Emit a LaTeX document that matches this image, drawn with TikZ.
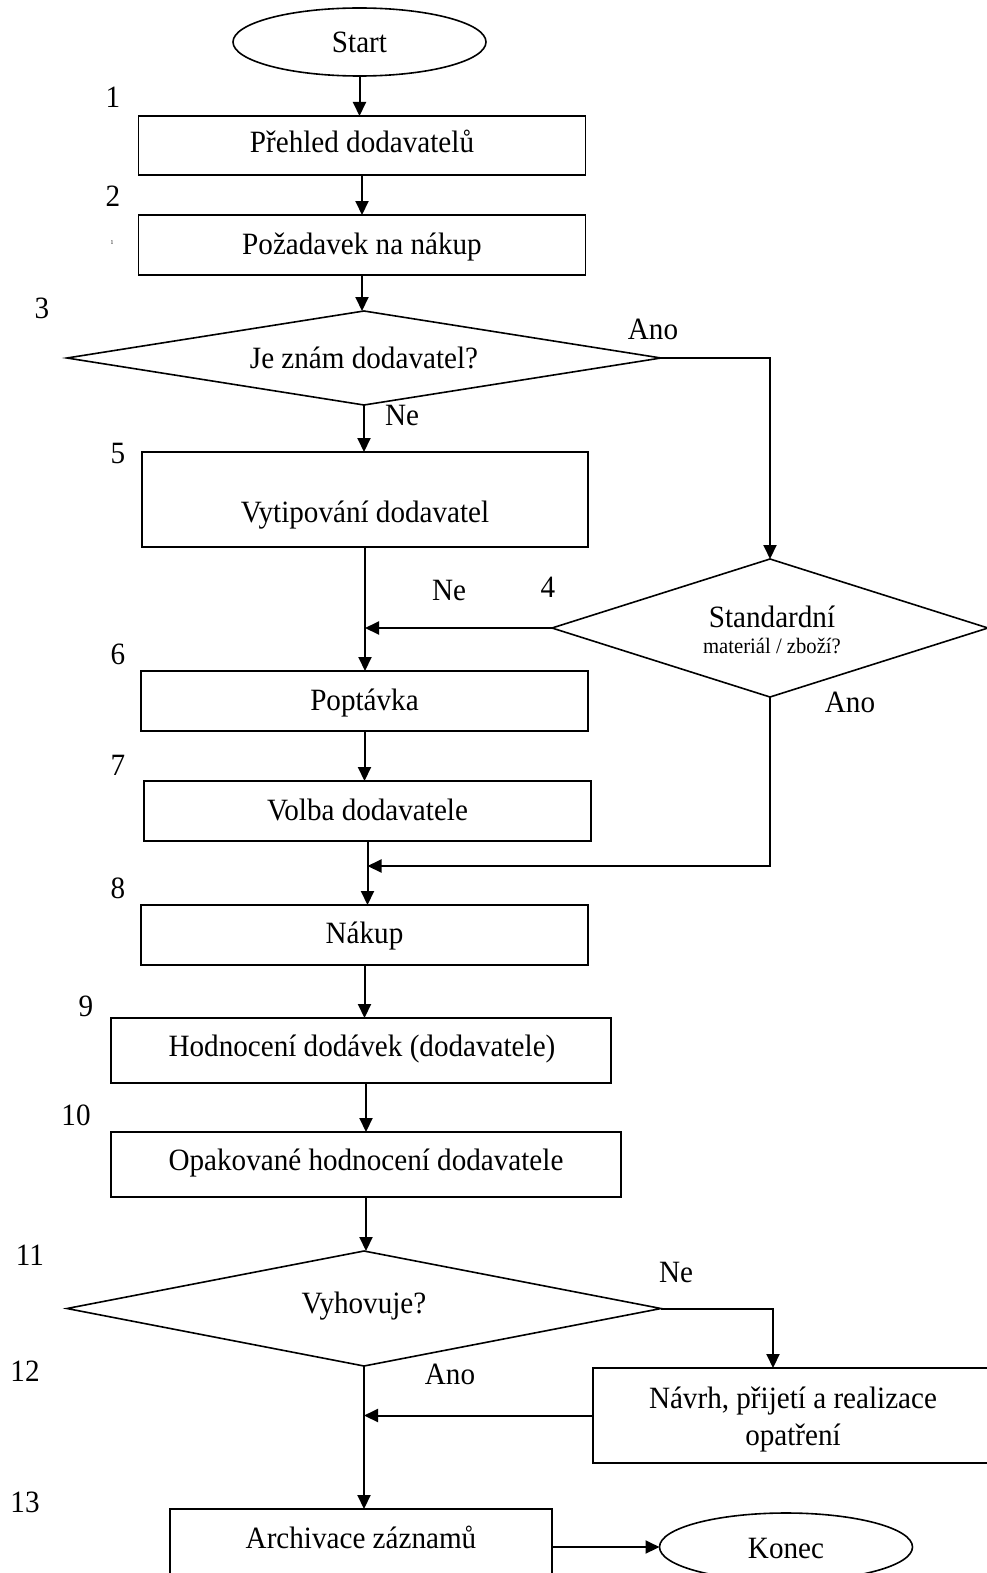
\documentclass[tikz,border=0pt]{standalone}
\usepackage{fontspec}
\setmainfont{Liberation Serif}[FakeStretch=0.94]
\usetikzlibrary{shapes.geometric,arrows.meta}
\begin{document}
\begin{tikzpicture}[x=1pt,y=-1pt,
  box/.style={draw,line width=1.8pt,rectangle,inner sep=0pt,outer sep=0pt},
  dia/.style={draw,line width=1.6pt,diamond,inner sep=0pt,outer sep=0pt},
  ell/.style={draw,line width=1.6pt,ellipse,inner sep=0pt,outer sep=0pt},
  txt/.style={anchor=base,inner sep=0pt,font=\fontsize{31}{36}\selectfont},
  small/.style={anchor=base,inner sep=0pt,font=\fontsize{22}{25}\selectfont},
  tiny/.style={anchor=base,inner sep=0pt,font=\fontsize{6}{7}\selectfont},
  arr/.style={line width=2pt,-{Triangle[length=14pt,width=13pt]}},
  ln/.style={line width=1.8pt}
]
\useasboundingbox (0,0) rectangle (987,1573);
\clip (0,0) rectangle (987,1573);
\fill[white] (0,0) rectangle (987,1573);

% shapes
\node[ell,minimum width=253pt,minimum height=68pt] (start) at (359.5,42) {};
\node[box,minimum width=447pt,minimum height=59pt] (b1) at (362,145.5) {};
\node[box,minimum width=447pt,minimum height=60pt] (b2) at (362,245) {};
\node[dia,minimum width=594pt,minimum height=94pt] (d3) at (364,358) {};
\node[box,minimum width=446pt,minimum height=95pt] (b5) at (365,499.5) {};
\node[dia,minimum width=436pt,minimum height=138pt] (d4) at (770,628) {};
\node[box,minimum width=447pt,minimum height=60pt] (b6) at (364.5,701) {};
\node[box,minimum width=447pt,minimum height=60pt] (b7) at (367.5,811) {};
\node[box,minimum width=447pt,minimum height=60pt] (b8) at (364.5,935) {};
\node[box,minimum width=500pt,minimum height=65pt] (b9) at (361,1050.5) {};
\node[box,minimum width=510pt,minimum height=65pt] (b10) at (366,1164.5) {};
\node[dia,minimum width=594pt,minimum height=115pt] (d11) at (364,1308.5) {};
\node[box,minimum width=396pt,minimum height=95pt] (b12) at (791,1415.5) {};
\node[box,minimum width=382pt,minimum height=81pt] (b13) at (361,1549.5) {};
\node[ell,minimum width=253pt,minimum height=68pt] (konec) at (786,1547) {};

% texts
\node[txt] (tstart) at (359.5,53) {Start};
\node[txt] (t1) at (362,153) {Přehled dodavatelů};
\node[txt] (t2) at (362,254) {Požadavek na nákup};
\node[txt] (t3) at (364,368) {Je znám dodavatel?};
\node[txt] (t5) at (365,522) {Vytipování dodavatel};
\node[txt] (t4a) at (772,627) {Standardní};
\node[small] (t4b) at (772,653) {materiál / zboží?};
\node[txt] (t6) at (364.5,710) {Poptávka};
\node[txt] (t7) at (367.5,820) {Volba dodavatele};
\node[txt] (t8) at (364.5,943) {Nákup};
\node[txt] (t9) at (362,1056) {Hodnocení dodávek (dodavatele)};
\node[txt] (t10) at (366,1170) {Opakované hodnocení dodavatele};
\node[txt] (t11) at (364,1313) {Vyhovuje?};
\node[txt] (t12a) at (793,1408) {Návrh, přijetí a realizace};
\node[txt] (t12b) at (793,1445) {opatření};
\node[txt] (t13) at (361,1548) {Archivace záznamů};
\node[txt] (tkonec) at (786,1558) {Konec};

% numbers
\node[txt] (n1) at (113,108) {1};
\node[txt] (n2) at (113,206) {2};
\node[tiny] (n2b) at (112,244) {1};
\node[txt] (n3) at (42,318) {3};
\node[txt] (n5) at (118,463) {5};
\node[txt] (n4) at (548,597) {4};
\node[txt] (n6) at (118,664) {6};
\node[txt] (n7) at (118,775) {7};
\node[txt] (n8) at (118,898) {8};
\node[txt] (n9) at (86,1016) {9};
\node[txt] (n10) at (76,1125) {10};
\node[txt] (n11) at (30,1265) {11};
\node[txt] (n12) at (25,1381) {12};
\node[txt] (n13) at (25,1512) {13};

% branch labels
\node[txt] (l3a) at (653,339) {Ano};
\node[txt] (l3n) at (402,425) {Ne};
\node[txt] (l4n) at (449,600) {Ne};
\node[txt] (l4a) at (850,712) {Ano};
\node[txt] (l11n) at (676,1282) {Ne};
\node[txt] (l11a) at (450,1384) {Ano};

% connectors
\draw[arr] (start.south) -- (start.south |- b1.north);
\draw[arr] (b1.south) -- (b1.south |- b2.north);
\draw[arr] (b2.south) -- (b2.south |- d3.north);
\draw[arr] (d3.south) -- (d3.south |- b5.north);
\draw[arr] (d3.east) -| (d4.north);
\draw[arr] (b5.south) -- (b5.south |- b6.north);
\draw[arr] (d4.west) -- (d4.west -| b5.south);
\draw[arr] (b6.south) -- (b6.south |- b7.north);
\draw[arr] (b7.south) -- (b7.south |- b8.north);
\coordinate (j8) at ([yshift=-25pt]b7.south);
\draw[arr] (d4.south) |- (j8);
\draw[arr] (b8.south) -- (b8.south |- b9.north);
\draw[arr] (b10.north |- b9.south) -- (b10.north);
\draw[arr] (b10.south) -- (b10.south |- d11.north);
\draw[arr] (d11.east) -| ([xshift=-18pt]b12.north);
\draw[arr] (b12.west) -- (b12.west -| d11.south);
\draw[arr] (d11.south) -- (d11.south |- b13.north);
\draw[arr] (b13.east |- konec.west) -- (konec.west);
\end{tikzpicture}
\end{document}
